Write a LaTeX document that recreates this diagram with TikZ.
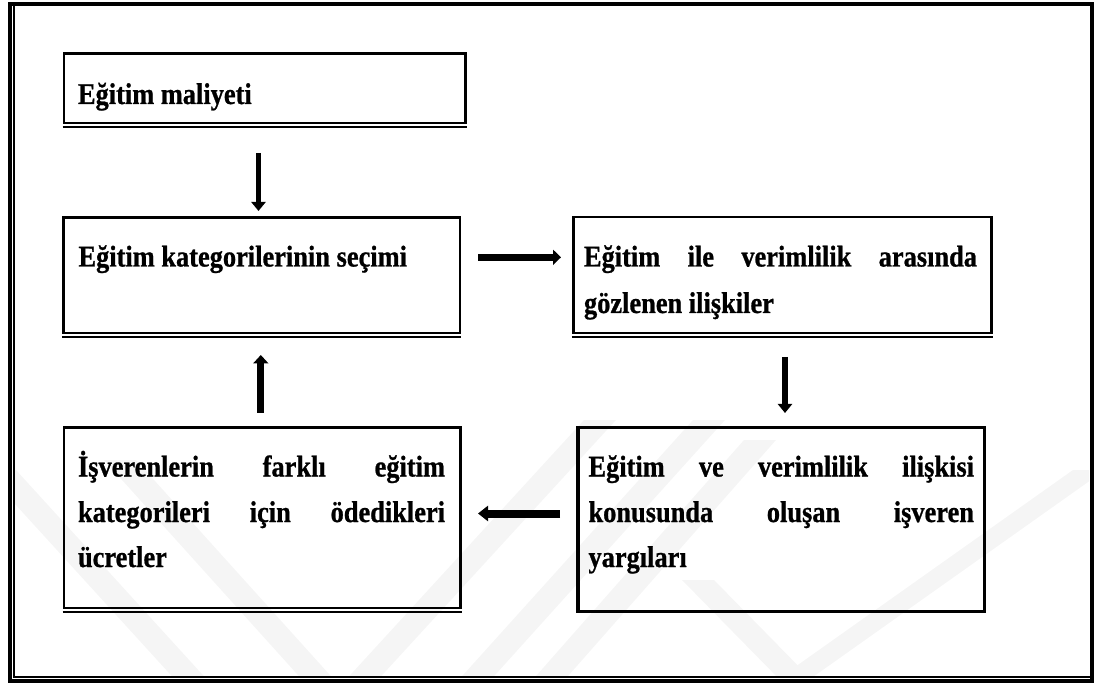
\documentclass[tikz,border=0pt]{standalone}
\usepackage{fontspec}
\usetikzlibrary{arrows.meta}
\newfontfamily\bx{Liberation Serif}[UprightFont=* Bold, FakeStretch=0.88, FakeBold=0.8]
\begin{document}
\begin{tikzpicture}[x=1pt,y=-1pt,
  box/.style={draw, line width=2.7pt, rectangle, outer sep=0pt, inner sep=0pt, anchor=north west},
  dline/.style={line width=1.6pt},
  txt/.style={inner sep=0pt, outer sep=0pt, anchor=base west, font=\bx\fontsize{30}{36}\selectfont},
  wm/.style={fill=black!4, draw=none}]
\useasboundingbox (0,0) rectangle (1095,684);
% watermark
\begin{scope}
\clip (15,7) rectangle (1089,676);
\fill[wm] (-16,470) -- (16,470) -- (211,684) -- (179,684) -- cycle;
\fill[wm] (104,460) -- (136,460) -- (338,684) -- (306,684) -- cycle;
\fill[wm] (584,420) -- (616,420) -- (374,684) -- (342,684) -- cycle;
\fill[wm] (693,420) -- (725,420) -- (487,684) -- (455,684) -- cycle;
\fill[wm] (744,440) -- (776,440) -- (561,684) -- (529,684) -- cycle;
\fill[wm] (1073,470) -- (1105,470) -- (803,684) -- (771,684) -- cycle;
\fill[wm] (682,580) -- (714,580) -- (816,684) -- (784,684) -- cycle;
\end{scope}
% outer frame
\draw[line width=4pt] (9.5,4) rectangle (1092,681);
\draw[dline] (13.8,6) -- (13.8,677.2) -- (1090,677.2);
% boxes
\node[box, minimum width=401.7pt, minimum height=69.7pt] (b1) at (64,53.3) {};
\node[box, minimum width=396.3pt, minimum height=115.7pt] (b2) at (63.7,217.3) {};
\node[box, minimum width=418pt, minimum height=116pt] (b3) at (573.3,217) {};
\node[box, minimum width=396.3pt, minimum height=180.7pt] (b4) at (64,427.3) {};
\node[box, line width=3.4pt, minimum width=406.7pt, minimum height=183.8pt] (b5) at (578,427.6) {};
\draw[dline] ([xshift=-1.4pt,yshift=-3.8pt]b1.south west) -- ([xshift=1.4pt,yshift=-3.8pt]b1.south east);
\draw[dline] ([xshift=-1.4pt,yshift=-3.8pt]b2.south west) -- ([xshift=1.4pt,yshift=-3.8pt]b2.south east);
\draw[dline] ([xshift=-1.4pt,yshift=-3.8pt]b3.south west) -- ([xshift=1.4pt,yshift=-3.8pt]b3.south east);
\draw[dline] ([xshift=-1.4pt,yshift=-3.8pt]b4.south west) -- ([xshift=1.4pt,yshift=-3.8pt]b4.south east);
% texts
\node[txt] (t1) at (78,104) {Eğitim maliyeti};
\node[txt] (t2) at (78.5,266.5) {Eğitim kategorilerinin seçimi};
\node[txt] (t3a) at (584,266.5) {\makebox[393pt][s]{Eğitim ile verimlilik arasında}};
\node[txt] (t3b) at (584,313) {gözlenen ilişkiler};
\node[txt] (t4a) at (78,476.5) {\makebox[367pt][s]{İşverenlerin farklı eğitim}};
\node[txt] (t4b) at (78,522) {\makebox[367pt][s]{kategorileri için ödedikleri}};
\node[txt] (t4c) at (78,567) {ücretler};
\node[txt] (t5a) at (588.5,476.5) {\makebox[385.5pt][s]{Eğitim ve verimlilik ilişkisi}};
\node[txt] (t5b) at (588.5,522) {\makebox[385.5pt][s]{konusunda oluşan işveren}};
\node[txt] (t5c) at (588.5,567) {yargıları};
% arrow end points
\coordinate (a1s) at (258.5,153);
\coordinate (a1e) at (258.5,211);
\coordinate (a2s) at (478,257.3);
\coordinate (a2e) at (561,257.3);
\coordinate (a3s) at (785,357);
\coordinate (a3e) at (785,413);
\coordinate (a4s) at (560,513.5);
\coordinate (a4e) at (478,513.5);
\coordinate (a5s) at (260.8,413);
\coordinate (a5e) at (260.8,355);
% arrows
\draw[line width=5.8pt, -{Triangle[width=14pt,length=9pt]}] (a1s) -- (a1e);
\draw[line width=7pt, -{Triangle[width=15pt,length=8pt]}] (a2s) -- (a2e);
\draw[line width=6.2pt, -{Triangle[width=14pt,length=9pt]}] (a3s) -- (a3e);
\draw[line width=8pt, -{Triangle[width=15pt,length=10pt]}] (a4s) -- (a4e);
\draw[line width=6.8pt, -{Triangle[width=15pt,length=8.5pt]}] (a5s) -- (a5e);
\end{tikzpicture}
\end{document}
